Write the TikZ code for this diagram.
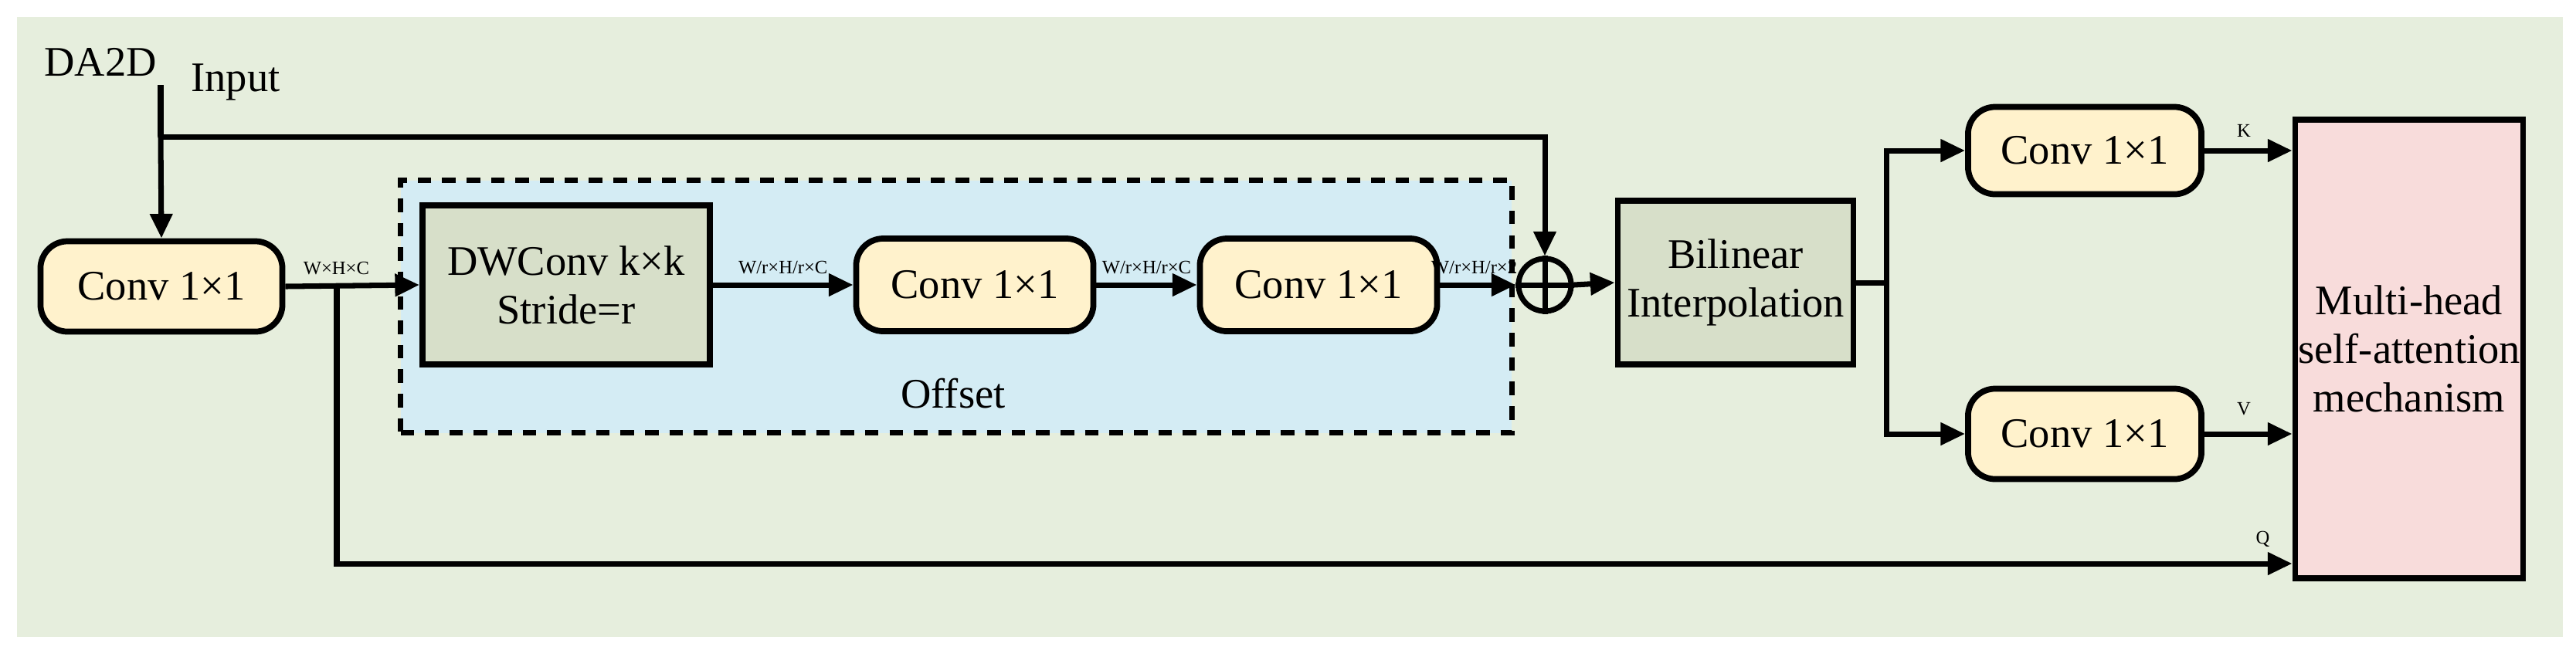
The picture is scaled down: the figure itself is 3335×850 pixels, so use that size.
\documentclass[tikz,border=0pt]{standalone}
\usepackage{fontspec}
\setmainfont{Liberation Serif}
\usetikzlibrary{arrows.meta}
\definecolor{bg}{HTML}{E6EEDD}
\definecolor{convc}{HTML}{FFF2CC}
\definecolor{grayg}{HTML}{D7DFC9}
\definecolor{offc}{HTML}{D4ECF4}
\definecolor{pinkc}{HTML}{F8DCDB}
\begin{document}
\begin{tikzpicture}[x=0.01cm,y=-0.01cm,
  conv/.style={draw,line width=2.2pt,rounded corners=10pt,fill=convc,font=\fontsize{15.5}{18}\selectfont,inner sep=0},
  gbox/.style={draw,line width=2.2pt,fill=grayg,font=\fontsize{15.5}{18}\selectfont,align=center,inner sep=0},
  ln/.style={line width=2pt},
  ar/.style={line width=2pt,-{Triangle[length=9pt,width=8pt]}},
  lab/.style={font=\fontsize{7}{8}\selectfont,inner sep=1pt},
  big/.style={font=\fontsize{15.5}{18}\selectfont}]
\useasboundingbox (0,0) rectangle (3335,850);
\fill[bg] (22,22) rectangle (3318,825);
\node[draw,line width=2pt,dash pattern=on 5pt off 4pt,fill=offc,minimum width=14.38cm,minimum height=3.27cm,anchor=north west,inner sep=0] (off) at (515,230) {};
\node[big] (offl) at (1234,510) {Offset};
\node[big,anchor=west] (da) at (45,80) {DA2D};
\node[big,anchor=west] (inp) at (235,106) {Input};
\coordinate (in) at (208,110);
\node[conv,minimum width=3.13cm,minimum height=1.17cm] (c1) at (209,371) {Conv 1×1};
\node[gbox,minimum width=3.72cm,minimum height=2.06cm] (dw) at (733,369) {DWConv k×k\\Stride=r};
\node[conv,minimum width=3.07cm,minimum height=1.2cm] (c2) at (1262,369) {Conv 1×1};
\node[conv,minimum width=3.07cm,minimum height=1.2cm] (c3) at (1707,369) {Conv 1×1};
\node[draw,circle,line width=2pt,minimum size=0.68cm,inner sep=0] (plus) at (2000,369) {};
\draw[line width=2pt] (plus.north)--(plus.south) (plus.west)--(plus.east);
\node[gbox,minimum width=3.05cm,minimum height=2.12cm] (bi) at (2247,366) {Bilinear\\Interpolation};
\node[conv,minimum width=3.02cm,minimum height=1.13cm] (ck) at (2699,195) {Conv 1×1};
\node[conv,minimum width=3.02cm,minimum height=1.17cm] (cv) at (2699,562) {Conv 1×1};
\node[draw,line width=2.2pt,fill=pinkc,minimum width=2.95cm,minimum height=5.94cm,inner sep=0,align=center,big] (mh) at (3119,452) {Multi-head\\self-attention\\mechanism};
\coordinate (top) at (208,177);
\coordinate (q) at (436,369);
\coordinate (sp) at (2442,366);
\draw[ln] (in)--(top);
\draw[ar] (top)--(c1.north);
\draw[ar] (top)-|(plus.north);
\draw[ar] (c1.east)--(dw.west) node[lab,pos=0.38,above=2pt]{W×H×C};
\draw[ar] (dw.east)--(c2.west) node[lab,midway,above=2pt]{W/r×H/r×C};
\draw[ar] (c2.east)--(c3.west) node[lab,midway,above=2pt]{W/r×H/r×C};
\draw[ar] (c3.east)--(plus.west) node[lab,pos=0.45,above=2pt]{W/r×H/r×2};
\draw[ar] (plus.east)--(bi.west);
\draw[ln] (bi.east)--(sp);
\draw[ar] (sp)|-(ck.west);
\draw[ar] (sp)|-(cv.west);
\draw[ar] (ck.east)--(ck.east-|mh.west) node[lab,pos=0.45,above=3pt]{K};
\draw[ar] (cv.east)--(cv.east-|mh.west) node[lab,pos=0.45,above=5pt]{V};
\coordinate (qd) at (436,730);
\draw[ar] (q)--(qd)--(qd-|mh.west) node[lab,pos=0.985,above=4pt]{Q};
\end{tikzpicture}
\end{document}
